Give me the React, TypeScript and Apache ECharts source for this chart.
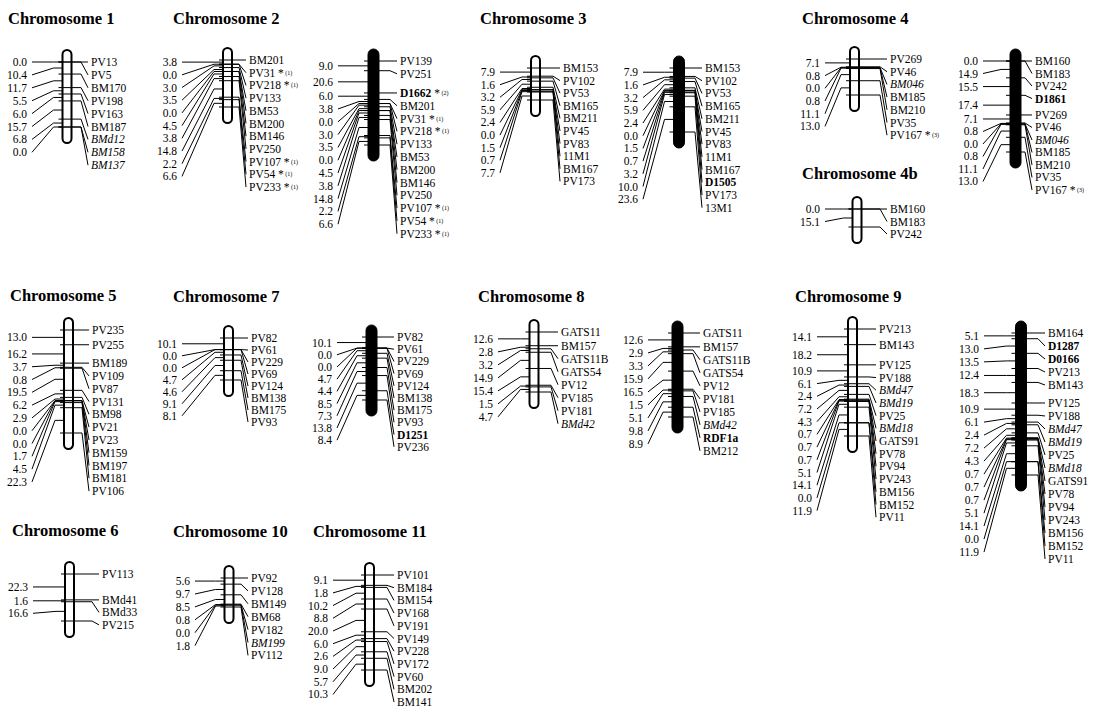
import React, { useEffect, useRef } from "react";
import * as echarts from "echarts";

// ---------- DATA: marker names (top to bottom) and intervals between consecutive markers (cM) ----------
const chr1Markers = ["PV13", "PV5", "BM170", "PV198", "PV163", "BM187", "BMd12", "BM158", "BM137"];
const chr1Intervals = [0.0, 10.4, 11.7, 5.5, 6.0, 15.7, 6.8, 0.0];

const chr2aMarkers = ["BM201", "PV31", "PV218", "PV133", "BM53", "BM200", "BM146", "PV250", "PV107", "PV54", "PV233"];
const chr2aIntervals = [3.8, 0.0, 3.0, 3.5, 0.0, 4.5, 3.8, 14.8, 2.2, 6.6];

const chr2bMarkers = ["PV139", "PV251", "D1662", "BM201", "PV31", "PV218", "PV133", "BM53", "BM200", "BM146", "PV250", "PV107", "PV54", "PV233"];
const chr2bIntervals = [9.0, 20.6, 6.0, 3.8, 0.0, 3.0, 3.5, 0.0, 4.5, 3.8, 14.8, 2.2, 6.6];

const chr3aMarkers = ["BM153", "PV102", "PV53", "BM165", "BM211", "PV45", "PV83", "11M1", "BM167", "PV173"];
const chr3aIntervals = [7.9, 1.6, 3.2, 5.9, 2.4, 0.0, 1.5, 0.7, 7.7];

const chr3bMarkers = ["BM153", "PV102", "PV53", "BM165", "BM211", "PV45", "PV83", "11M1", "BM167", "D1505", "PV173", "13M1"];
const chr3bIntervals = [7.9, 1.6, 3.2, 5.9, 2.4, 0.0, 1.5, 0.7, 3.2, 10.0, 23.6];

const chr4aMarkers = ["PV269", "PV46", "BM046", "BM185", "BM210", "PV35", "PV167"];
const chr4aIntervals = [7.1, 0.8, 0.0, 0.8, 11.1, 13.0];

const chr4bMarkers = ["BM160", "BM183", "PV242"];
const chr4bIntervals = [0.0, 15.1];

const chr4cMarkers = ["BM160", "BM183", "PV242", "D1861", "PV269", "PV46", "BM046", "BM185", "BM210", "PV35", "PV167"];
const chr4cIntervals = [0.0, 14.9, 15.5, 17.4, 7.1, 0.8, 0.0, 0.8, 11.1, 13.0];

const chr5Markers = ["PV235", "PV255", "BM189", "PV109", "PV87", "PV131", "BM98", "PV21", "PV23", "BM159", "BM197", "BM181", "PV106"];
const chr5Intervals = [13.0, 16.2, 3.7, 0.8, 19.5, 6.2, 2.9, 0.0, 0.0, 1.7, 4.5, 22.3];

const chr6Markers = ["PV113", "BMd41", "BMd33", "PV215"];
const chr6Intervals = [22.3, 1.6, 16.6];

const chr7aMarkers = ["PV82", "PV61", "PV229", "PV69", "PV124", "BM138", "BM175", "PV93"];
const chr7aIntervals = [10.1, 0.0, 0.0, 4.7, 4.6, 9.1, 8.1];

const chr7bMarkers = ["PV82", "PV61", "PV229", "PV69", "PV124", "BM138", "BM175", "PV93", "D1251", "PV236"];
const chr7bIntervals = [10.1, 0.0, 0.0, 4.7, 4.4, 8.5, 7.3, 13.8, 8.4];

const chr8aMarkers = ["GATS11", "BM157", "GATS11B", "GATS54", "PV12", "PV185", "PV181", "BMd42"];
const chr8aIntervals = [12.6, 2.8, 3.2, 14.9, 15.4, 1.5, 4.7];

const chr8bMarkers = ["GATS11", "BM157", "GATS11B", "GATS54", "PV12", "PV181", "PV185", "BMd42", "RDF1a", "BM212"];
const chr8bIntervals = [12.6, 2.9, 3.3, 15.9, 16.5, 1.5, 5.1, 9.8, 8.9];

const chr9aMarkers = ["PV213", "BM143", "PV125", "PV188", "BMd47", "BMd19", "PV25", "BMd18", "GATS91", "PV78", "PV94", "PV243", "BM156", "BM152", "PV11"];
const chr9aIntervals = [14.1, 18.2, 10.9, 6.1, 2.4, 7.2, 4.3, 0.7, 0.7, 0.7, 5.1, 14.1, 0.0, 11.9];

const chr9bMarkers = ["BM164", "D1287", "D0166", "PV213", "BM143", "PV125", "PV188", "BMd47", "BMd19", "PV25", "BMd18", "GATS91", "PV78", "PV94", "PV243", "BM156", "BM152", "PV11"];
const chr9bIntervals = [5.1, 13.0, 13.5, 12.4, 18.3, 10.9, 6.1, 2.4, 7.2, 4.3, 0.7, 0.7, 0.7, 5.1, 14.1, 0.0, 11.9];

const chr10Markers = ["PV92", "PV128", "BM149", "BM68", "PV182", "BM199", "PV112"];
const chr10Intervals = [5.6, 9.7, 8.5, 0.8, 0.0, 1.8];

const chr11Markers = ["PV101", "BM184", "BM154", "PV168", "PV191", "PV149", "PV228", "PV172", "PV60", "BM202", "BM141"];
const chr11Intervals = [9.1, 1.8, 10.2, 8.8, 20.0, 6.0, 2.6, 9.0, 5.7, 10.3];

const italicMarkers = ["BMd12", "BM158", "BM137", "BM046", "BMd42", "BMd47", "BMd19", "BMd18", "BM199"];
const boldMarkers = ["D1662", "D1505", "D1861", "D1251", "RDF1a", "D1287", "D0166"];
const notedMarkers = ["PV31", "PV218", "PV107", "PV54", "PV233", "D1662", "PV167"];
const noteLabels = ["(1)", "(1)", "(1)", "(1)", "(1)", "(2)", "(3)"];

const chromosomeTitles = ["Chromosome 1", "Chromosome 2", "Chromosome 3", "Chromosome 4", "Chromosome 4b", "Chromosome 5", "Chromosome 7", "Chromosome 8", "Chromosome 9", "Chromosome 6", "Chromosome 10", "Chromosome 11"];

// ---------- LAYOUT ----------
const FONT = "Liberation Serif";
const FS = 11.5;
const titlePositions = [[8, 18], [173, 18], [480, 18], [802, 18], [802, 173], [10, 295], [173, 296], [478, 296], [795, 296], [12, 530], [173, 531], [313, 531]];

type MapDef = {
  markers: string[]; intervals: number[]; filled: boolean;
  cx: number; top: number; span: number; leftX: number; rightX: number; step: number;
};

const maps: MapDef[] = [
  { markers: chr1Markers, intervals: chr1Intervals, filled: false, cx: 67, top: 62, span: 65, leftX: 27, rightX: 91, step: 12.9 },
  { markers: chr2aMarkers, intervals: chr2aIntervals, filled: false, cx: 227.5, top: 60, span: 47, leftX: 177, rightX: 249, step: 12.7 },
  { markers: chr2bMarkers, intervals: chr2bIntervals, filled: true, cx: 373.5, top: 61, span: 84, leftX: 333, rightX: 400, step: 12.8 },
  { markers: chr3aMarkers, intervals: chr3aIntervals, filled: false, cx: 535.5, top: 68, span: 32, leftX: 495, rightX: 563, step: 12.6 },
  { markers: chr3bMarkers, intervals: chr3bIntervals, filled: true, cx: 679, top: 68, span: 64, leftX: 638, rightX: 705, step: 12.7 },
  { markers: chr4aMarkers, intervals: chr4aIntervals, filled: false, cx: 854.5, top: 59, span: 36, leftX: 820, rightX: 890, step: 12.7 },
  { markers: chr4bMarkers, intervals: chr4bIntervals, filled: false, cx: 857, top: 209, span: 18, leftX: 820, rightX: 890, step: 12.5 },
  { markers: chr4cMarkers, intervals: chr4cIntervals, filled: true, cx: 1015.5, top: 61, span: 91, leftX: 978, rightX: 1035, step: 12.5 },
  { markers: chr5Markers, intervals: chr5Intervals, filled: false, cx: 68.5, top: 330, span: 103, leftX: 27, rightX: 92, step: 12.8 },
  { markers: chr6Markers, intervals: chr6Intervals, filled: false, cx: 69.5, top: 574, span: 47, leftX: 28, rightX: 102, step: 12.5 },
  { markers: chr7aMarkers, intervals: chr7aIntervals, filled: false, cx: 228.5, top: 338, span: 42, leftX: 177, rightX: 251, step: 12 },
  { markers: chr7bMarkers, intervals: chr7bIntervals, filled: true, cx: 371.5, top: 337, span: 63, leftX: 332, rightX: 397, step: 12.2 },
  { markers: chr8aMarkers, intervals: chr8aIntervals, filled: false, cx: 534, top: 332, span: 60, leftX: 493, rightX: 561, step: 13 },
  { markers: chr8bMarkers, intervals: chr8bIntervals, filled: true, cx: 677.5, top: 333, span: 84, leftX: 643, rightX: 703, step: 13 },
  { markers: chr9aMarkers, intervals: chr9aIntervals, filled: false, cx: 852.5, top: 329, span: 107, leftX: 812, rightX: 879, step: 12.7 },
  { markers: chr9bMarkers, intervals: chr9bIntervals, filled: true, cx: 1021, top: 333, span: 142, leftX: 979, rightX: 1048, step: 13 },
  { markers: chr10Markers, intervals: chr10Intervals, filled: false, cx: 229, top: 578, span: 29, leftX: 190, rightX: 251, step: 12.9 },
  { markers: chr11Markers, intervals: chr11Intervals, filled: false, cx: 369.5, top: 575, span: 95, leftX: 328, rightX: 397, step: 12.7 },
];

function cumulative(intervals: number[]): number[] {
  const c = [0];
  intervals.forEach((d) => c.push(Math.round((c[c.length - 1] + d) * 100) / 100));
  return c;
}

function stackLabels(ys: number[], step: number): number[] {
  const out: number[] = [];
  ys.forEach((y, i) => out.push(i === 0 ? y : Math.max(y, out[i - 1] + step)));
  return out;
}

function markerText(name: string): string {
  const key = italicMarkers.includes(name) ? "i" : boldMarkers.includes(name) ? "b" : "n";
  const ni = notedMarkers.indexOf(name);
  return `{${key}|${name}}` + (ni >= 0 ? `{n| *}{s| ${noteLabels[ni]}}` : "");
}

const richStyles = {
  n: { fontFamily: FONT, fontSize: FS, fill: "#000" },
  i: { fontFamily: FONT, fontSize: FS, fontStyle: "italic", fill: "#000" },
  b: { fontFamily: FONT, fontSize: FS, fontWeight: "bold", fill: "#000" },
  s: { fontFamily: FONT, fontSize: 6, fill: "#000" },
};

const LINE = { stroke: "#000", lineWidth: 1, fill: "none" };

function buildOption() {
  const grids: any[] = [];
  const xAxes: any[] = [];
  const yAxes: any[] = [];
  const series: any[] = [];

  maps.forEach((m, k) => {
    const cum = cumulative(m.intervals);
    const total = cum[cum.length - 1];
    const barW = m.filled ? 11 : 9;
    grids.push({ left: m.cx - 50, top: m.top, width: 100, height: m.span, containLabel: false, show: false });
    xAxes.push({ type: "value", gridIndex: k, min: -50, max: 50, show: false });
    yAxes.push({ type: "value", gridIndex: k, min: 0, max: total, inverse: true, show: false });

    // chromosome bar
    series.push({
      type: "custom",
      xAxisIndex: k,
      yAxisIndex: k,
      z: 1,
      silent: true,
      data: [[0, total]],
      renderItem: (_params: any, api: any) => {
        const a = api.coord([0, 0]);
        const b = api.coord([0, api.value(1)]);
        return {
          type: "rect",
          shape: { x: a[0] - barW / 2, y: a[1] - 12, width: barW, height: b[1] - a[1] + 28, r: barW / 2 },
          style: { fill: m.filled ? "#000" : "#fff", stroke: "#000", lineWidth: m.filled ? 1 : 2 },
        };
      },
    });

    // markers + intervals
    series.push({
      type: "custom",
      xAxisIndex: k,
      yAxisIndex: k,
      z: 2,
      silent: true,
      data: m.markers.map((_n, i) => [i, cum[i]]),
      renderItem: (params: any, api: any) => {
        const i = params.dataIndex;
        const p = api.coord([0, api.value(1)]);
        const cx = p[0];
        const ty = p[1];
        const barL = cx - barW / 2;
        const tickR = m.rightX - 10;
        const tickYs = cum.map((v) => api.coord([0, v])[1]);
        const rightYs = stackLabels(tickYs, m.step);
        const mids = m.intervals.map((d, j) => api.coord([0, cum[j] + d / 2])[1]);
        const leftYs = stackLabels(mids, m.step);
        const ry = rightYs[i];
        const children: any[] = [
          { type: "line", z2: 2, shape: { x1: barL - 4, y1: ty, x2: tickR, y2: ty }, style: LINE },
          { type: "polyline", z2: 2, shape: { points: [[tickR, ty], [m.rightX - 3, ry]] }, style: LINE },
          {
            type: "text",
            z2: 3,
            x: m.rightX,
            y: ry,
            style: {
              text: markerText(m.markers[i]),
              rich: richStyles,
              fontFamily: FONT,
              fontSize: FS,
              fill: "#000",
              align: "left",
              verticalAlign: "middle",
            },
          },
        ];
        if (i < m.intervals.length) {
          const my = mids[i];
          const ly = leftYs[i];
          children.push(
            { type: "line", z2: 2, shape: { x1: barL - 9, y1: my, x2: barL, y2: my }, style: LINE },
            { type: "polyline", z2: 2, shape: { points: [[m.leftX + 5, ly], [barL - 9, my]] }, style: LINE },
            {
              type: "text",
              z2: 3,
              x: m.leftX,
              y: ly,
              style: {
                text: m.intervals[i].toFixed(1),
                fontFamily: FONT,
                fontSize: FS,
                fill: "#000",
                align: "right",
                verticalAlign: "middle",
              },
            }
          );
        }
        return { type: "group", children };
      },
    });
  });

  const graphic = chromosomeTitles.map((t, i) => ({
    type: "text",
    x: titlePositions[i][0],
    y: titlePositions[i][1],
    silent: true,
    style: {
      text: t,
      fontFamily: FONT,
      fontSize: 16.5,
      fontWeight: "bold",
      fill: "#000",
      align: "left",
      verticalAlign: "middle",
    },
  }));

  return {
    animation: false,
    backgroundColor: "#fff",
    graphic,
    grid: grids,
    xAxis: xAxes,
    yAxis: yAxes,
    series,
  };
}

export default function App() {
  const ref = useRef<HTMLDivElement>(null);
  useEffect(() => {
    const chart = echarts.init(ref.current!, null, { renderer: "svg" });
    chart.setOption(buildOption() as any);
    return () => chart.dispose();
  }, []);
  return (
    <div style={{ position: "absolute", left: 0, top: 0, width: 1102, height: 710, background: "#fff" }}>
      <div ref={ref} style={{ width: 1102, height: 710 }} />
    </div>
  );
}
